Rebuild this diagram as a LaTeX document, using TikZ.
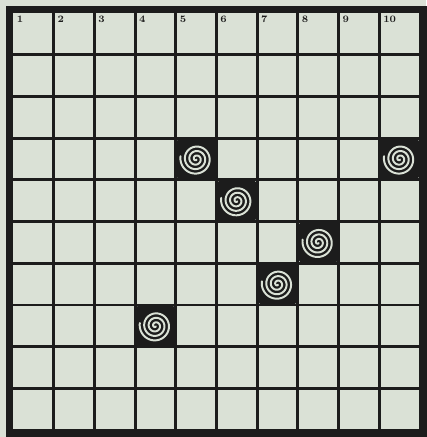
\documentclass[tikz,border=0pt]{standalone}
\usepackage{tikz}
\usetikzlibrary{calc}
\definecolor{gdPaper}{HTML}{DAE1D6}
\definecolor{gdInk}{HTML}{1C1C1C}
\tikzset{
  gridline/.style={draw=gdInk, line width=2pt},
  framebox/.style={draw=gdInk, line width=5pt},
  colnum/.style={font=\scriptsize\bfseries, text=gdInk, inner sep=0.5pt, anchor=north west},
  spiralcell/.style={fill=gdInk, rounded corners=2pt, minimum width=0.97cm, minimum height=1cm, inner sep=0pt},
  spiralline/.style={draw=gdPaper, line width=1.4pt, line cap=round}
}
\begin{document}
\begin{tikzpicture}[x=0.025cm, y=-0.025cm]
  \fill[gdPaper] (0,0) rectangle (426,437);
  % grid lines
  \foreach \i in {1,...,9}{
    \draw[gridline] ({13+40.7*\i},13) -- ({13+40.7*\i},430);
    \draw[gridline] (13,{13+41.7*\i}) -- (420,{13+41.7*\i});
  }
  \draw[framebox] (9.5,9.5) rectangle (423,433);
  % column numbers
  \foreach \n in {1,...,10}{\node[colnum] (num\n) at ({13+40.7*(\n-1)+3},15) {\n};}
  % spiral cells
  \foreach \c/\r in {5/4, 10/4, 6/5, 8/6, 7/7, 4/8}{
    \node[spiralcell] (sp\c\r) at ({13+40.7*(\c-0.5)},{13+41.7*(\r-0.5)}) {};
    \draw[spiralline, shift={(sp\c\r.center)}] plot[domain=60:1270, samples=170, smooth, variable=\t]
      ({0.0125*\t*cos(\t)}, {0.0125*\t*sin(\t)});
  }
\end{tikzpicture}
\end{document}
